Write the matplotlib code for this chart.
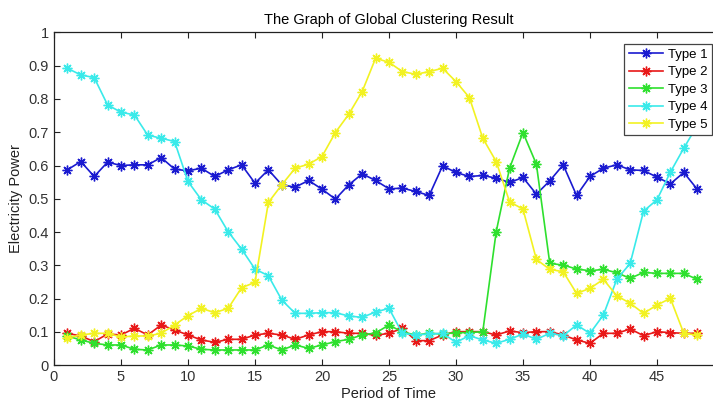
import numpy as np
from matplotlib import pyplot as plt

plt.rcParams['font.family'] = ['Liberation Sans', 'DejaVu Sans']

period = np.arange(1, 49)

type1 = [0.587, 0.612, 0.567, 0.610, 0.600, 0.602, 0.602, 0.624, 0.589, 0.584,
         0.592, 0.567, 0.587, 0.602, 0.547, 0.587, 0.542, 0.535, 0.555, 0.529,
         0.499, 0.542, 0.575, 0.555, 0.530, 0.532, 0.522, 0.510, 0.599, 0.579,
         0.567, 0.570, 0.562, 0.549, 0.564, 0.514, 0.554, 0.602, 0.510, 0.567,
         0.592, 0.602, 0.587, 0.585, 0.565, 0.545, 0.579, 0.529]
type2 = [0.096, 0.088, 0.071, 0.094, 0.091, 0.111, 0.091, 0.121, 0.106, 0.091,
         0.076, 0.069, 0.078, 0.078, 0.091, 0.096, 0.091, 0.078, 0.091, 0.101,
         0.101, 0.096, 0.096, 0.090, 0.096, 0.111, 0.074, 0.074, 0.091, 0.101,
         0.101, 0.101, 0.091, 0.103, 0.098, 0.101, 0.101, 0.091, 0.076, 0.066,
         0.096, 0.096, 0.109, 0.089, 0.101, 0.098, 0.096, 0.096]
type3 = [0.088, 0.076, 0.066, 0.061, 0.061, 0.048, 0.046, 0.061, 0.061, 0.058,
         0.048, 0.046, 0.046, 0.046, 0.046, 0.061, 0.046, 0.061, 0.051, 0.061,
         0.071, 0.078, 0.091, 0.097, 0.121, 0.100, 0.091, 0.096, 0.094, 0.098,
         0.098, 0.101, 0.401, 0.592, 0.699, 0.604, 0.306, 0.301, 0.289, 0.284,
         0.288, 0.278, 0.261, 0.279, 0.276, 0.276, 0.276, 0.258]
type4 = [0.892, 0.872, 0.864, 0.782, 0.760, 0.752, 0.691, 0.682, 0.672, 0.552,
         0.497, 0.469, 0.401, 0.349, 0.289, 0.269, 0.196, 0.156, 0.156, 0.158,
         0.158, 0.148, 0.144, 0.160, 0.171, 0.096, 0.091, 0.094, 0.096, 0.069,
         0.089, 0.076, 0.066, 0.078, 0.094, 0.078, 0.096, 0.089, 0.121, 0.096,
         0.151, 0.258, 0.306, 0.463, 0.497, 0.580, 0.652, 0.720]
type5 = [0.082, 0.091, 0.096, 0.096, 0.085, 0.088, 0.088, 0.096, 0.121, 0.149,
         0.171, 0.158, 0.171, 0.233, 0.249, 0.489, 0.542, 0.592, 0.604, 0.627,
         0.699, 0.754, 0.822, 0.922, 0.910, 0.882, 0.874, 0.882, 0.892, 0.852,
         0.804, 0.682, 0.612, 0.491, 0.469, 0.318, 0.288, 0.281, 0.216, 0.231,
         0.258, 0.209, 0.186, 0.156, 0.181, 0.201, 0.096, 0.091]

series = [type1, type2, type3, type4, type5]
names = ['Type 1', 'Type 2', 'Type 3', 'Type 4', 'Type 5']
colors = ['#1a1ad0', '#e81818', '#2ee02e', '#3aeaea', '#f2f222']
xtick_labels = ['0', '5', '10', '15', '20', '25', '30', '35', '40', '45', '']
ytick_labels = ['0', '0.1', '0.2', '0.3', '0.4', '0.5', '0.6', '0.7', '0.8', '0.9', '1']

fig = plt.figure(figsize=(7.13, 4.08), dpi=100)
# axes runs past the right edge, the reference image is cropped there
ax = fig.add_axes([0.0757, 0.1047, 0.9397, 0.8161])

for vals, name, c in zip(series, names, colors):
    ax.plot(period, vals, '-', marker=(8, 2, 0), color=c, lw=1.2, ms=7, mew=1.0, label=name)

ax.set_xlim(0, 50)
ax.set_ylim(0, 1)
ax.set_xticks(np.arange(0, 51, 5))
ax.set_xticklabels(xtick_labels)
ax.set_yticks(np.arange(0, 1.01, 0.1))
ax.set_yticklabels(ytick_labels)
ax.tick_params(direction='in', top=True, right=True, labelsize=10.5, length=4,
               colors='#222222', labelcolor='#333333')
for s in ax.spines.values():
    s.set_color('#222222')
    s.set_linewidth(0.9)

ax.set_xlabel('Period of Time', fontsize=10.5, labelpad=2, color='#222222')
ax.set_ylabel('Electricity Power', fontsize=10.5, labelpad=4, color='#222222')
ax.set_title('The Graph of Global Clustering Result', fontsize=10.5, pad=6)

leg = ax.legend(loc='upper left', bbox_to_anchor=(0.841, 0.985), fontsize=9.5,
                fancybox=False, framealpha=1, edgecolor='#444444',
                handlelength=2.6, borderpad=0.35, labelspacing=0.4, handletextpad=0.4)
leg.get_frame().set_linewidth(0.9)

fig.savefig('out.png', dpi=100)
